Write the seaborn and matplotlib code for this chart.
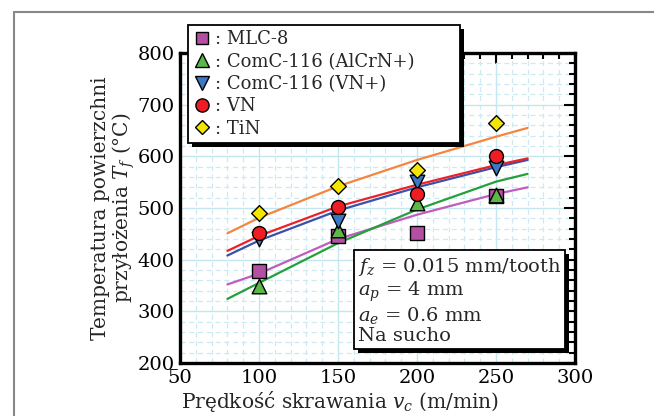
import matplotlib
matplotlib.use("Agg")
import matplotlib.pyplot as plt
import matplotlib.patheffects as pe
from matplotlib.lines import Line2D
from matplotlib.ticker import MultipleLocator
import numpy as np
import pandas as pd
import seaborn as sns

# measured points
vc = [100, 150, 200, 250]
mlc8 = [378, 446, 452, 524]
alcrn = [350, 457, 509, 525]
vnplus = [440, 475, 550, 578]
vn = [451, 502, 527, 600]
tin = [490, 542, 574, 664]

# fitted curves
vc_fit = [80, 100, 150, 200, 250, 270]
fit_mlc8 = [352, 373, 440, 487, 527, 540]
fit_alcrn = [324, 355, 432, 497, 551, 566]
fit_vnplus = [408, 437, 495, 540, 579, 593]
fit_vn = [417, 446, 503, 545, 583, 596]
fit_tin = [451, 481, 542, 593, 638, 655]

labels = [": MLC-8", ": ComC-116 (AlCrN+)", ": ComC-116 (VN+)", ": VN", ": TiN"]

sns.set_style("white")
plt.rcParams['font.family'] = ['DejaVu Serif']
plt.rcParams['mathtext.fontset'] = 'dejavuserif'

fig = plt.figure(figsize=(6.54, 4.16), dpi=100)
ax = fig.add_axes([180 / 654, 1 - 363 / 416, 395 / 654, 310 / 416])

series = [
    (mlc8, fit_mlc8, 's', '#b54fa3', '#c05cbf', 9.5),
    (alcrn, fit_alcrn, '^', '#5cb846', '#23a03b', 10.5),
    (vnplus, fit_vnplus, 'v', '#3d78c6', '#3b50a9', 10.5),
    (vn, fit_vn, 'o', '#ee1d24', '#ec2128', 10),
    (tin, fit_tin, 'D', '#f3e600', '#f5853f', 8),
]

for pts, fit, mk, fc, lc, ms in series:
    d = pd.DataFrame({'x': vc_fit, 'y': fit})
    sns.lineplot(data=d, x='x', y='y', color=lc, lw=1.6, ax=ax, zorder=3)

handles = []
for pts, fit, mk, fc, lc, ms in series:
    d = pd.DataFrame({'x': vc, 'y': pts})
    sns.scatterplot(data=d, x='x', y='y', marker=mk, color=fc, edgecolor='black',
                    linewidth=1.0, s=ms ** 2, ax=ax, zorder=4)
    handles.append(Line2D([], [], marker=mk, ls='none', mfc=fc, mec='black',
                          mew=1.0, ms=ms * 0.95))

ax.set_xlim(50, 300)
ax.set_ylim(200, 800)
ax.xaxis.set_major_locator(MultipleLocator(50))
ax.xaxis.set_minor_locator(MultipleLocator(10))
ax.yaxis.set_major_locator(MultipleLocator(100))
ax.yaxis.set_minor_locator(MultipleLocator(20))
ax.grid(which='major', color='#c4e6ef', lw=1.0, ls='-', zorder=0)
ax.grid(which='minor', color='#cdeaf2', lw=0.9, ls=(0, (4, 3)), zorder=0)
ax.set_axisbelow(True)
ax.tick_params(which='both', direction='in', top=True, right=True, width=1.5,
               labelsize=14, color='black', labelcolor='black')
ax.tick_params(which='major', length=8, pad=4)
ax.tick_params(which='minor', length=4.5)
for sp in ax.spines.values():
    sp.set_linewidth(2.4)
    sp.set_color('black')

ax.set_xlabel("Prędkość skrawania $v_c$ (m/min)", fontsize=14.5)
ax.set_ylabel("Temperatura powierzchni\nprzyłożenia $T_f$ (°C)", fontsize=14.5,
              linespacing=1.0)
ax.xaxis.set_label_coords(0.405, -0.085)
ax.yaxis.set_label_coords(-0.11, 0.5)

leg = fig.legend(handles, labels, loc='upper left', mode='expand',
                 bbox_to_anchor=(188 / 654, 1 - 139 / 416, 272 / 654, 114 / 416),
                 fontsize=13, frameon=True, fancybox=False, edgecolor='black',
                 framealpha=1, handlelength=0.9, handletextpad=0.3,
                 labelspacing=0.24, borderpad=0.3, borderaxespad=0)
leg.get_frame().set_linewidth(1.3)
leg.get_frame().set_path_effects([
    pe.SimplePatchShadow(offset=(3, -3), shadow_rgbFace='black', alpha=1),
    pe.Normal()])
leg.set_zorder(10)

txt = ax.text(0.45, 0.345,
              "$f_z$ = 0.015 mm/tooth\n$a_p$ = 4 mm\n$a_e$ = 0.6 mm\nNa sucho",
              transform=ax.transAxes, fontsize=14, va='top', ha='left',
              linespacing=1.08, zorder=10,
              bbox=dict(boxstyle='square,pad=0.2', fc='white', ec='black', lw=1.3))
txt.get_bbox_patch().set_path_effects([
    pe.SimplePatchShadow(offset=(3, -3), shadow_rgbFace='black', alpha=1),
    pe.Normal()])

# outer grey frame (top and left edge visible)
fig.add_artist(Line2D([14 / 654, 1.0], [1 - 12 / 416] * 2,
                      transform=fig.transFigure, color='#888888', lw=1.5))
fig.add_artist(Line2D([14 / 654] * 2, [0.0, 1 - 12 / 416],
                      transform=fig.transFigure, color='#888888', lw=1.5))

fig.savefig("out.png", dpi=100)
